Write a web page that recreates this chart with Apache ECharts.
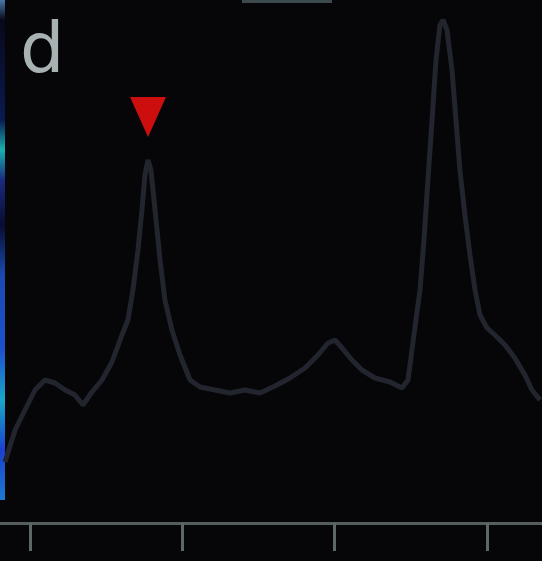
<!DOCTYPE html>
<html>
<head>
<meta charset="utf-8">
<script src="https://cdn.jsdelivr.net/npm/echarts@6/dist/echarts.min.js"></script>
<style>
  html, body { margin: 0; padding: 0; background: #060608; }
  #main { width: 542px; height: 561px; }
</style>
</head>
<body>
<div id="main"></div>
<script>
// spectrum trace, x in axis units (ticks every 100), y in arbitrary intensity
var xs = [-16.4, -9.8, -3.3, 3.3, 9.8, 16.4, 23.0, 29.5, 34.8, 40.7, 47.3, 53.8, 60.4, 64.3, 67.6, 70.9, 73.5, 75.5, 77.5, 79.4,
          82.1, 85.4, 88.6, 93.2, 98.5, 105.1, 111.6, 121.5, 131.3, 141.2, 151.0, 160.9, 170.7, 180.6, 189.1, 195.7, 200.3, 204.9,
          211.4, 218.0, 226.5, 236.4, 244.3, 248.2, 250.8, 253.4, 256.1, 258.7, 261.3, 264.0, 266.6, 269.2, 271.2, 273.8, 277.1,
          279.7, 282.3, 285.6, 288.9, 292.2, 295.5, 300.1, 305.3, 311.9, 318.4, 325.0, 329.6, 334.9];
var ys = [12.2, 18.6, 22.6, 26.6, 28.6, 28.0, 26.6, 25.6, 23.6, 26.2, 28.6, 32.2, 37.6, 40.6, 46.6, 54.6, 62.6, 69.6, 72.6, 70.6,
          62.6, 52.6, 44.6, 38.6, 33.6, 28.6, 27.2, 26.6, 26.0, 26.6, 26.0, 27.4, 29.0, 31.0, 33.6, 36.0, 36.6, 35.0,
          32.6, 30.6, 29.0, 28.2, 27.0, 28.6, 34.6, 40.6, 46.6, 56.6, 68.6, 80.6, 92.6, 99.6, 100.6, 98.6, 90.6,
          80.6, 70.6, 61.6, 53.6, 46.6, 41.6, 39.0, 37.6, 35.6, 33.0, 29.6, 26.6, 24.6];
// peak marker (red triangle)
var markerX = [77.5];
var markerY = [81.2];
var xTicks = [0, 100, 200, 300];
var panelLabel = 'd';

var lineData = xs.map(function (x, i) { return [x, ys[i]]; });
var markData = markerX.map(function (x, i) { return [x, markerY[i]]; });

var myChart = echarts.init(document.getElementById('main'));
myChart.setOption({
    backgroundColor: '#060608',
    animation: false,
    grid: { left: 0, right: 0, top: 0, bottom: 38 },
    xAxis: {
        type: 'value',
        min: -19.7,
        max: 336.2,
        interval: 100,
        axisLine: { show: true, onZero: false, lineStyle: { color: '#555d5e', width: 3 } },
        axisTick: {
            show: true, length: 28, inside: false,
            customValues: xTicks,
            lineStyle: { color: '#5d6866', width: 3 }
        },
        axisLabel: { show: false },
        splitLine: { show: false }
    },
    yAxis: {
        type: 'value',
        min: 0,
        max: 104.6,
        show: false
    },
    series: [
        {
            type: 'line',
            data: lineData,
            showSymbol: false,
            smooth: false,
            lineStyle: { color: '#22252e', width: 5 },
            z: 2
        },
        {
            type: 'scatter',
            data: markData,
            symbol: 'triangle',
            symbolRotate: 180,
            symbolSize: [36, 40],
            itemStyle: { color: '#ff1010' },
            z: 3
        }
    ],
    graphic: [
        {
            type: 'text',
            left: 20, top: 19,
            style: { text: panelLabel, fill: '#a8b2b2', font: '70px "DejaVu Sans"' }
        },
        {
            type: 'rect',
            shape: { x: 0, y: 0, width: 5, height: 500 },
            style: {
                fill: new echarts.graphic.LinearGradient(0, 0, 0, 1, [
                    { offset: 0, color: '#4a78a8' },
                    { offset: 0.04, color: '#08081a' },
                    { offset: 0.24, color: '#0a1a50' },
                    { offset: 0.3, color: '#18b0b0' },
                    { offset: 0.36, color: '#1a2a80' },
                    { offset: 0.45, color: '#080c30' },
                    { offset: 0.55, color: '#1a4ab0' },
                    { offset: 0.7, color: '#1d50d0' },
                    { offset: 0.8, color: '#18a8c8' },
                    { offset: 0.9, color: '#1a40d0' },
                    { offset: 1, color: '#1c7ad0' }
                ])
            }
        },
        {
            type: 'rect',
            shape: { x: 242, y: 0, width: 90, height: 3 },
            style: { fill: '#3c4a50' }
        }
    ]
});
</script>
</body>
</html>
